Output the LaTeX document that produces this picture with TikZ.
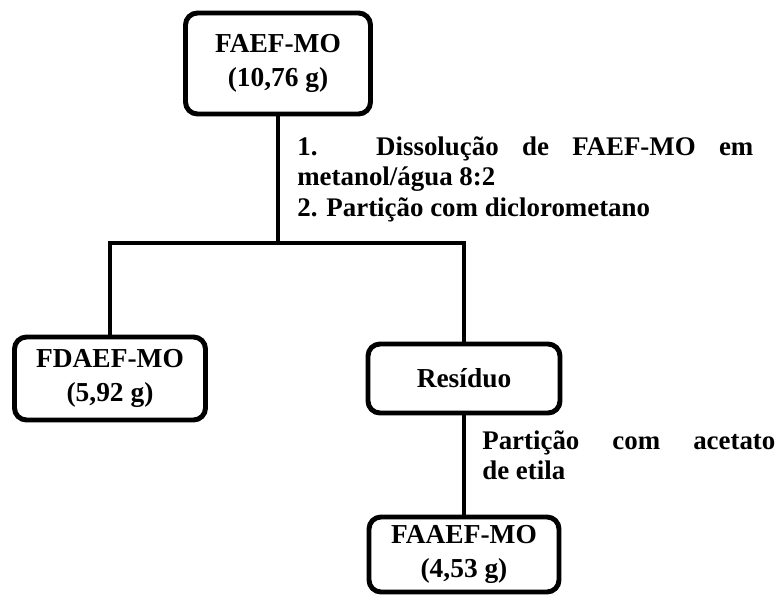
\documentclass[tikz,border=0pt]{standalone}
\usepackage{fontspec}
\setmainfont{Liberation Serif}
\usepackage{tikz}
\usetikzlibrary{calc,positioning}
\setlength{\parindent}{0pt}

\begin{document}
\begin{tikzpicture}[line join=miter, font=\bfseries]
		\tikzset{fracao/.style={draw, line width=2.8pt, rounded corners=0.24cm, fill=white, align=center, inner sep=0pt, font=\fontsize{15.6}{19.4}\selectfont\bfseries},
			etapa/.style={anchor=north west, inner sep=0pt, align=justify, font=\fontsize{15.3}{17.2}\selectfont\bfseries},
			ramo/.style={line width=2.3pt}}
		\useasboundingbox (0,0) rectangle (15.58,11.88);
		\node[fracao, minimum width=3.7cm, minimum height=2.02cm] (faef) at (5.56,10.61) {FAEF-MO\\(10,76 g)};
		\coordinate (split) at (5.56,7.02);
		\node[fracao, minimum width=3.82cm, minimum height=1.66cm] (fdaef) at (2.20,4.31) {FDAEF-MO\\(5,92 g)};
		\node[fracao, minimum width=3.84cm, minimum height=1.38cm] (residuo) at (9.28,4.31) {Resíduo};
		\node[fracao, minimum width=3.8cm, minimum height=1.5cm] (faaef) at (9.28,0.79) {FAAEF-MO\\(4,53 g)};
		\draw[ramo] (faef) -- (split);
		\draw[ramo] (fdaef) |- (split) -| (residuo);
		\draw[ramo] (residuo) -- (faaef);
		\node[etapa, text width=9.12cm] (passo1) at (5.94,9.15) {1. Dissolução de FAEF-MO em\linebreak metanol/água 8:2\newline 2. Partição com diclorometano};
		\node[etapa, text width=5.86cm] (passo2) at (9.64,3.27) {Partição com acetato\linebreak de etila};
	\end{tikzpicture}
\end{document}
